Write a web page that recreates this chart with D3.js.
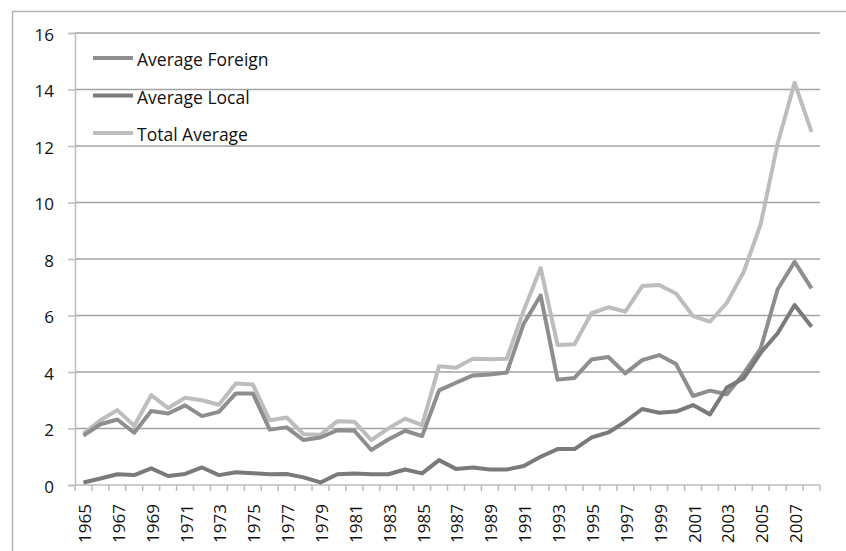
<!DOCTYPE html>
<html>
<head>
<meta charset="utf-8">
<script src="https://cdn.jsdelivr.net/npm/d3@7"></script>
<style>
  body { margin: 0; background: #fff; }
  svg text { font-family: "Open Sans", "Liberation Sans", sans-serif; fill: #111; }
</style>
</head>
<body>
<div id="chart"></div>
<script>
var years = d3.range(1965, 2009);

var foreign = [1.75, 2.15, 2.32, 1.85, 2.62, 2.53, 2.82, 2.44, 2.59, 3.24, 3.24,
    1.96, 2.04, 1.59, 1.68, 1.94, 1.92, 1.24, 1.61, 1.92, 1.73,
    3.35, 3.62, 3.88, 3.91, 3.98, 5.71, 6.71, 3.73, 3.79, 4.44,
    4.53, 3.95, 4.42, 4.6, 4.28, 3.15, 3.34, 3.21, 3.95, 4.84,
    6.93, 7.9, 6.96];

var local = [0.09, 0.23, 0.38, 0.35, 0.59, 0.32, 0.39, 0.62, 0.35, 0.45, 0.42,
    0.38, 0.39, 0.27, 0.09, 0.38, 0.41, 0.38, 0.38, 0.55, 0.41,
    0.88, 0.57, 0.62, 0.55, 0.55, 0.67, 1.0, 1.27, 1.27, 1.68,
    1.86, 2.24, 2.69, 2.56, 2.6, 2.83, 2.5, 3.45, 3.78, 4.68,
    5.37, 6.37, 5.6];

var total = [1.82, 2.29, 2.65, 2.1, 3.18, 2.72, 3.09, 3.0, 2.84, 3.59, 3.56,
    2.29, 2.39, 1.8, 1.78, 2.26, 2.24, 1.59, 2.0, 2.35, 2.12,
    4.2, 4.15, 4.47, 4.45, 4.47, 6.18, 7.68, 4.96, 4.98, 6.08,
    6.29, 6.14, 7.04, 7.08, 6.78, 5.98, 5.78, 6.45, 7.55, 9.24,
    12.09, 14.24, 12.5];

var yTicks = d3.range(0, 17, 2);

var seriesNames = ["Average Foreign", "Average Local", "Total Average"];
var seriesColors = ["#8e8e8e", "#7a7a7a", "#bdbdbd"];

var width = 846, height = 551;
var margin = {top: 33, right: 26, bottom: 66, left: 75};
var fontSize = "17px";

var svg = d3.select("#chart").append("svg")
    .attr("width", width)
    .attr("height", height);

// outer chart border
svg.append("rect")
    .attr("x", 12.5).attr("y", 11.5)
    .attr("width", 900).attr("height", 600)
    .attr("fill", "none")
    .attr("stroke", "#b4b4b4")
    .attr("stroke-width", 1.5);

var xScale = d3.scaleBand()
    .domain(years)
    .range([margin.left, width - margin.right]);

var yScale = d3.scaleLinear()
    .domain([0, 16])
    .range([height - margin.bottom, margin.top]);

// gridlines
svg.append("g")
    .selectAll("line")
    .data(yTicks.filter(function(d) { return d > 0; }))
    .enter().append("line")
    .attr("x1", margin.left)
    .attr("x2", width - margin.right)
    .attr("y1", function(d) { return yScale(d); })
    .attr("y2", function(d) { return yScale(d); })
    .attr("stroke", "#a3a3a3")
    .attr("stroke-width", 1.5);

// y axis
var yAxis = d3.axisLeft(yScale).tickValues(yTicks).tickSize(7).tickPadding(13);
var gy = svg.append("g")
    .attr("transform", "translate(" + margin.left + ",0)")
    .call(yAxis);
gy.select(".domain").attr("stroke", "#bcbcbc").attr("stroke-width", 1.5);
gy.selectAll(".tick line").attr("stroke", "#bcbcbc").attr("stroke-width", 1.5);
gy.selectAll("text").style("font-size", fontSize).attr("y", 2).attr("x", -21);

// x axis: ticks between categories
var xAxisY = yScale(0);
svg.append("line")
    .attr("x1", margin.left).attr("x2", width - margin.right)
    .attr("y1", xAxisY).attr("y2", xAxisY)
    .attr("stroke", "#bcbcbc").attr("stroke-width", 1.5);

var bounds = years.map(function(d) { return xScale(d); }).concat([xScale.range()[1]]);
svg.append("g")
    .selectAll("line")
    .data(bounds)
    .enter().append("line")
    .attr("x1", function(d) { return d; })
    .attr("x2", function(d) { return d; })
    .attr("y1", xAxisY)
    .attr("y2", xAxisY + 6)
    .attr("stroke", "#bcbcbc")
    .attr("stroke-width", 1.5);

svg.append("g")
    .selectAll("text")
    .data(years.filter(function(d, i) { return i % 2 == 0; }))
    .enter().append("text")
    .attr("transform", function(d) {
        return "translate(" + (xScale(d) + xScale.bandwidth() / 2 + 7.5) + "," + (xAxisY + 19) + ") rotate(-90)";
    })
    .attr("text-anchor", "end")
    .style("font-size", fontSize)
    .text(function(d) { return d; });

// lines
var line = d3.line()
    .x(function(d, i) { return xScale(years[i]) + xScale.bandwidth() / 2; })
    .y(function(d) { return yScale(d); });

var seriesData = [foreign, local, total];
[2, 0, 1].forEach(function(k) {
    svg.append("path")
        .datum(seriesData[k])
        .attr("d", line)
        .attr("fill", "none")
        .attr("stroke", seriesColors[k])
        .attr("stroke-width", 4)
        .attr("stroke-linejoin", "round");
});

// legend
var legend = svg.append("g")
    .selectAll("g")
    .data(seriesNames)
    .enter().append("g")
    .attr("transform", function(d, i) { return "translate(93," + (58 + i * 37.5) + ")"; });

legend.append("line")
    .attr("x1", 0).attr("x2", 40)
    .attr("stroke", function(d, i) { return seriesColors[i]; })
    .attr("stroke-width", 4);

legend.append("text")
    .attr("x", 44)
    .attr("y", 2)
    .attr("dy", "0.35em")
    .style("font-size", "17.5px")
    .text(function(d) { return d; });
</script>
</body>
</html>
